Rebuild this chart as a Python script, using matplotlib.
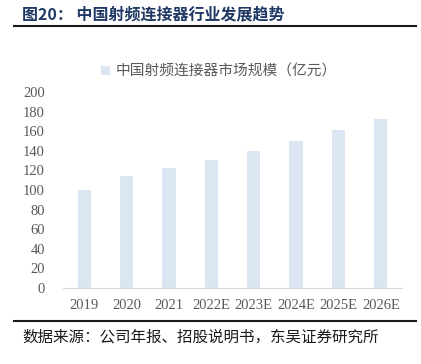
import matplotlib.pyplot as plt

years = ["2019", "2020", "2021", "2022E", "2023E", "2024E", "2025E", "2026E"]
market_size = [100, 114, 122, 131, 140, 150, 161, 172]
yticks = [0, 20, 40, 60, 80, 100, 120, 140, 160, 180, 200]

CJK = ["Noto Sans CJK SC", "DejaVu Sans"]
SERIF = ["Liberation Serif", "Noto Sans CJK SC"]
GRAY = "#595959"

fig = plt.figure(figsize=(4.21, 3.64), dpi=100)
ax = fig.add_axes([63 / 421, 1 - 288 / 364, 339 / 421, 196 / 364])

ax.bar(range(len(years)), market_size, width=0.31, color="#dce6f2",
       label="中国射频连接器市场规模（亿元）")
ax.set_xlim(-0.5, len(years) - 0.5)
ax.set_ylim(0, 200)
ax.set_yticks(yticks)
ax.set_xticks(range(len(years)))
ax.set_xticklabels(years)
for lbl in ax.get_xticklabels() + ax.get_yticklabels():
    lbl.set_family(SERIF)
    lbl.set_fontsize(10.5)
    lbl.set_color(GRAY)
ax.tick_params(length=0, pad=8)
ax.tick_params(axis="y", pad=13)
for side in ["top", "right", "left"]:
    ax.spines[side].set_visible(False)
ax.spines["bottom"].set_color("#d9d9d9")

leg = ax.legend(loc="center", bbox_to_anchor=(0.46, 1.105), frameon=False,
                handlelength=0.6, handleheight=0.6, handletextpad=0.4,
                prop={"family": CJK, "size": 10.6})
for t in leg.get_texts():
    t.set_color(GRAY)

fig.text(22 / 421, 1 - 14 / 364, "图20： 中国射频连接器行业发展趋势", family=CJK,
         fontsize=11.5, fontweight="bold", color="#1f3864", va="center")
fig.add_artist(plt.Line2D([14 / 421, 416 / 421], [1 - 26 / 364, 1 - 26 / 364],
                          color="#1a1a1a", lw=1.5))
fig.add_artist(plt.Line2D([14 / 421, 416 / 421], [1 - 321 / 364, 1 - 321 / 364],
                          color="#1a1a1a", lw=1.5))
fig.text(22 / 421, 1 - 337 / 364, "数据来源：公司年报、招股说明书，东吴证券研究所",
         family=CJK, fontsize=11.2, color="#1a1a1a", va="center")

fig.savefig("out.png", dpi=100)
